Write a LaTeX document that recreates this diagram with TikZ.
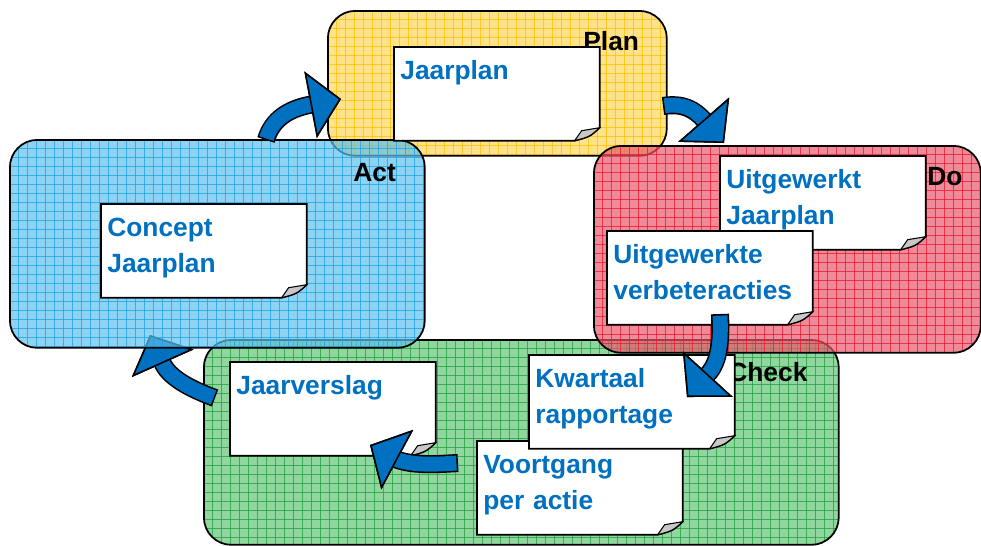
\documentclass[tikz,border=0pt]{standalone}
\usepackage{fontspec}
\setmainfont{Liberation Sans}
\usetikzlibrary{arrows.meta,calc}

\definecolor{planvul}{HTML}{FFD758}
\definecolor{planlijn}{HTML}{FFC000}
\definecolor{actvul}{HTML}{5CC0EE}
\definecolor{actlijn}{HTML}{1EA0E0}
\definecolor{dovul}{HTML}{E9586C}
\definecolor{dolijn}{HTML}{E8192E}
\definecolor{checkvul}{HTML}{5FC476}
\definecolor{checklijn}{HTML}{22A03C}
\definecolor{pdcablauw}{HTML}{0070C0}
\definecolor{omslag}{HTML}{C8C8C8}

\tikzset{
  fase/.style 2 args={draw=black, line width=1pt, rounded corners=0.55cm,
    anchor=north west, fill=#1, fill opacity=0.7,
    path picture={
      \foreach \i in {1,...,72}
        \draw[draw=#2, line width=0.5pt, draw opacity=0.75]
          ([xshift=\i*0.18cm]path picture bounding box.north west)
          -- ([xshift=\i*0.18cm]path picture bounding box.south west);
      \foreach \i in {1,...,24}
        \draw[draw=#2, line width=0.5pt, draw opacity=0.75]
          ([yshift=-\i*0.18cm]path picture bounding box.north west)
          -- ([yshift=-\i*0.18cm]path picture bounding box.north east);
    }},
  faselabel/.style={anchor=base west, inner sep=0pt,
    font=\bfseries\fontsize{15}{18}\selectfont},
  blad/.style={anchor=north west, inner sep=0pt,
    minimum width=4.1cm, minimum height=1.86cm},
  bladtekst/.style={anchor=base west, inner sep=0pt, text width=3.9cm,
    align=left, text=pdcablauw, font=\bfseries\fontsize{15}{21}\selectfont},
  pijl/.style={draw=pdcablauw, line width=8.5pt, shorten <=0.9pt,
    -{Triangle[length=0.62cm,width=1.35cm,fill=pdcablauw,color=black,line width=0.9pt]},
    preaction={draw=black, line width=10.3pt, shorten <=0pt,
      -{Triangle[length=0.62cm,width=1.35cm,line width=0.9pt]}}},
}

% blad met omgekrulde hoek: naam, linksboven, tekst
\newcommand{\blad}[3]{%
  \node[blad] (#1) at (#2) {};
  \filldraw[fill=white, draw=black, line width=1pt]
    (#1.north west) -- (#1.north east) -- ($(#1.south east)+(0,-13)$)
    .. controls ($(#1.south east)+(-10,-4)$) .. ($(#1.south east)+(-25,0)$)
    -- (#1.south west) -- cycle;
  \filldraw[fill=omslag, draw=black, line width=0.6pt]
    ($(#1.south east)+(-25,0)$) -- ($(#1.south east)+(-18,-10)$)
    -- ($(#1.south east)+(0,-13)$)
    .. controls ($(#1.south east)+(-10,-4)$) .. ($(#1.south east)+(-25,0)$);
  \node[bladtekst] (#1tekst) at ($(#1.north west)+(6,32)$) {#3};
}

\begin{document}
\begin{tikzpicture}[x=0.02cm, y=-0.02cm]
  \useasboundingbox (0,0) rectangle (981,545);

  % Fasen
  \node[fase={planvul}{planlijn}, minimum width=6.78cm, minimum height=2.9cm] (plan) at (327,10) {};
  \node[fase={checkvul}{checklijn}, minimum width=12.7cm, minimum height=4.1cm] (check) at (203,339) {};

  % Pijl van Check naar Act (ligt onder het blauwe vlak)
  \coordinate (checkact-s) at (215,398);
  \coordinate (checkact-b) at (163,364);
  \coordinate (checkact-t) at (150,335);
  \draw[pijl] (checkact-s) .. controls +(-19,-7) and +(8,16) .. (checkact-b) -- (checkact-t);

  \node[fase={actvul}{actlijn}, minimum width=8.3cm, minimum height=4.16cm] (act) at (9,139) {};
  \node[fase={dovul}{dolijn}, minimum width=7.74cm, minimum height=4.14cm] (do) at (593,145) {};

  % Labels
  \node[faselabel] (planlabel) at (583,50) {Plan};
  \node[faselabel] (actlabel) at (353,181) {Act};
  \node[faselabel] (dolabel) at (927,185) {Do};
  \node[faselabel] (checklabel) at (728,381) {Check};

  % Bladen
  \blad{jaarplan}{394,47}{Jaarplan}
  \blad{concept}{101,204}{Concept\\Jaarplan}
  \blad{uitgewerkt}{720,156}{Uitgewerkt\\Jaarplan}
  \blad{verbeter}{607,231}{Uitgewerkte\\verbeteracties}
  \blad{jaarverslag}{230,362}{Jaarverslag}
  \blad{voortgang}{477,441}{Voortgang\\per actie}
  \blad{kwartaal}{529,355}{Kwartaal\\rapportage}

  % Pijlen
  \coordinate (actplan-s) at (266,140);
  \coordinate (actplan-b) at (309,105);
  \coordinate (actplan-t) at (341,99);
  \draw[pijl] (actplan-s) .. controls +(6,-21) and +(-20,4) .. (actplan-b) -- (actplan-t);

  \coordinate (plando-s) at (663,106);
  \coordinate (plando-b) at (704,120);
  \coordinate (plando-t) at (724,143);
  \draw[pijl] (plando-s) .. controls +(20,-3) and +(-10,-11) .. (plando-b) -- (plando-t);

  \coordinate (docheck-s) at (720,314);
  \coordinate (docheck-b) at (708,374);
  \coordinate (docheck-t) at (687,397);
  \draw[pijl] (docheck-s) .. controls +(1,25) and +(12,-13) .. (docheck-b) -- (docheck-t);

  \coordinate (voortgang-s) at (458,463);
  \coordinate (voortgang-b) at (398,460);
  \coordinate (voortgang-t) at (370,445);
  \draw[pijl] (voortgang-s) .. controls +(-18,1) and +(18,6) .. (voortgang-b) -- (voortgang-t);

\end{tikzpicture}
\end{document}
